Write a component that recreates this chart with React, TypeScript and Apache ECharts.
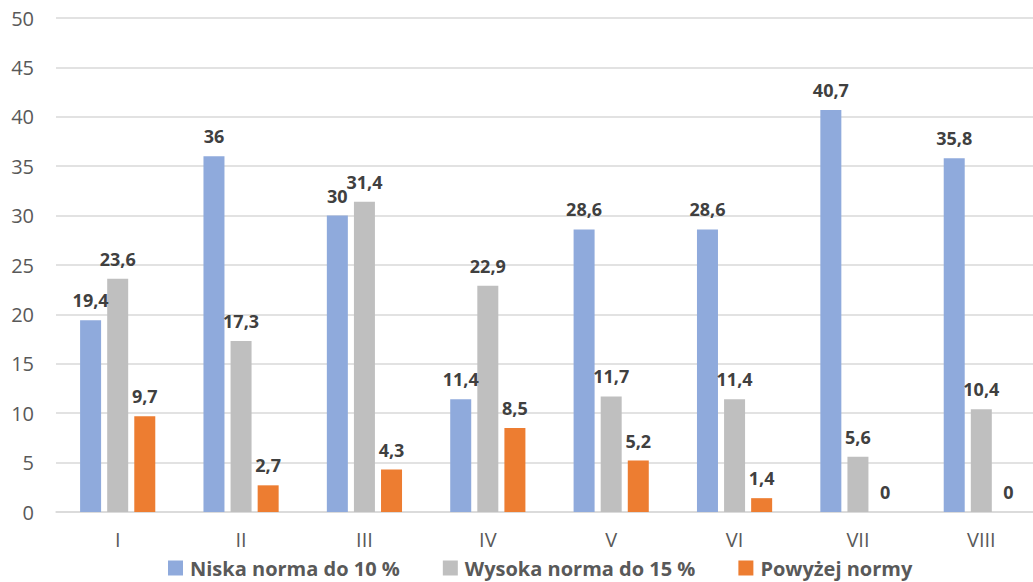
import React, { useEffect, useRef } from "react";
import * as echarts from "echarts";

const categories = ["I", "II", "III", "IV", "V", "VI", "VII", "VIII"];
const niska = [19.4, 36, 30, 11.4, 28.6, 28.6, 40.7, 35.8];
const wysoka = [23.6, 17.3, 31.4, 22.9, 11.7, 11.4, 5.6, 10.4];
const powyzej = [9.7, 2.7, 4.3, 8.5, 5.2, 1.4, 0, 0];
const seriesNames = ["Niska norma do 10 %", "Wysoka norma do 15 %", "Powyżej normy"];
const colors = ["#8FAADC", "#BFBFBF", "#ED7D31"];

const FONT = "'Open Sans', 'Noto Sans', sans-serif";

export default function App() {
  const ref = useRef<HTMLDivElement>(null);
  useEffect(() => {
    if (!ref.current) return;
    const chart = echarts.init(ref.current, null, { renderer: "svg" });
    const fmt = (p: any) => String(p.value).replace(".", ",");
    const mk = (name: string, data: number[], color: string) => ({
      name,
      type: "bar",
      data,
      barWidth: 21,
      barGap: "29%",
      itemStyle: { color },
      label: {
        show: true,
        position: "top",
        distance: 11,
        formatter: fmt,
        fontFamily: FONT,
        fontWeight: "bold",
        fontSize: 18,
        color: "#404040",
      },
    });
    chart.setOption({
      animation: false,
      textStyle: { fontFamily: FONT },
      grid: {
        left: 56,
        width: 987,
        top: 18,
        bottom: 70,
        containLabel: false,
        outerBoundsMode: "none",
      },
      legend: {
        top: 558,
        left: 168,
        padding: 0,
        itemWidth: 15,
        itemHeight: 15,
        itemGap: 43,
        icon: "rect",
        textStyle: { fontFamily: FONT, fontSize: 20, fontWeight: "bold", color: "#595959", padding: [0, 0, 0, 2] },
        data: seriesNames,
      },
      xAxis: {
        type: "category",
        data: categories,
        axisLine: { lineStyle: { color: "#D9D9D9", width: 1.5 } },
        axisTick: { show: false },
        axisLabel: { fontFamily: FONT, fontSize: 20, color: "#595959", margin: 17 },
      },
      yAxis: {
        type: "value",
        min: 0,
        max: 50,
        interval: 5,
        axisLine: { show: false },
        axisTick: { show: false },
        splitLine: { lineStyle: { color: "#D9D9D9", width: 1.5 } },
        axisLabel: { fontFamily: FONT, fontSize: 20, color: "#595959", margin: 22 },
      },
      series: [
        mk(seriesNames[0], niska, colors[0]),
        mk(seriesNames[1], wysoka, colors[1]),
        mk(seriesNames[2], powyzej, colors[2]),
      ],
    });
    return () => chart.dispose();
  }, []);
  return (
    <div
      ref={ref}
      style={{ position: "fixed", left: 0, top: 0, width: 1033, height: 582, background: "#fff" }}
    />
  );
}
